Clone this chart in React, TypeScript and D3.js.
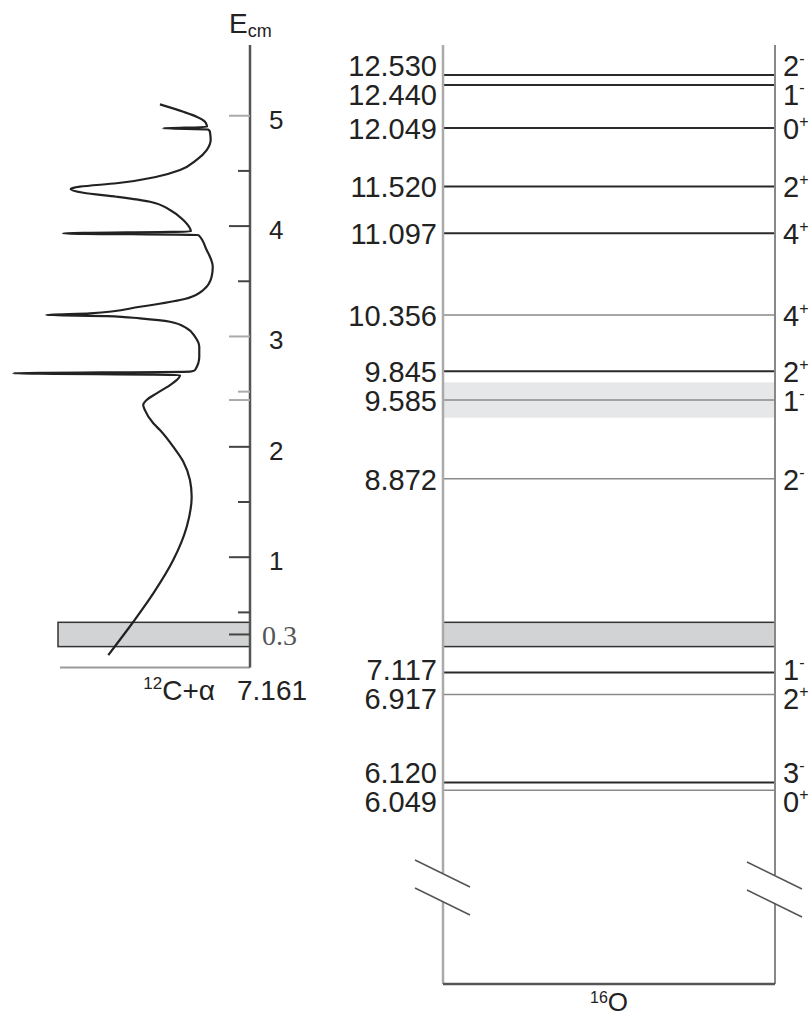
import React from "react";
import * as d3 from "d3";

// 12C + alpha threshold in 16O (MeV)
const THRESHOLD = 7.161;

// 16O levels (excitation energy, MeV)
const levelEnergies = [12.53, 12.44, 12.049, 11.52, 11.097, 10.356, 9.845, 9.585, 8.872, 7.117, 6.917, 6.12, 6.049];
const levelSpins = ["2", "1", "0", "2", "4", "4", "2", "1", "2", "1", "2", "3", "0"];
const levelParities = ["-", "-", "+", "+", "+", "+", "+", "-", "-", "-", "+", "-", "+"];
const levelKinds = ["strong", "strong", "strong", "strong", "strong", "weak", "strong", "weak", "weak", "strong", "weak", "strong", "weak"];
const levelWidths = [0, 0, 0, 0, 0, 0, 0, 0.32, 0, 0, 0, 0, 0];

// Gamow window (E_cm, MeV)
const gamowPeak = 0.3;
const gamowWindow = [0.19, 0.41];

// E_cm axis ticks
const ecmMajorTicks = [1, 2, 3, 4, 5];
const ecmMinorTicks = [0.5, 1.5, 2.5, 3.5, 4.5];

// yield curve: E_cm (MeV) and relative yield
const curveEcm = [
  0.113, 0.415, 0.672, 0.974, 1.276, 1.548, 1.699, 1.865, 2.001, 2.152, 2.213, 2.333, 2.379, 2.424,
  2.485, 2.56, 2.62, 2.65, 2.666, 2.682, 2.696, 2.816, 2.907, 2.997, 3.074, 3.133, 3.164, 3.185,
  3.194, 3.209, 3.269, 3.33, 3.421, 3.541, 3.632, 3.753, 3.783, 3.919, 3.934, 3.951, 4.055, 4.146,
  4.221, 4.266, 4.302, 4.336, 4.357, 4.388, 4.447, 4.508, 4.599, 4.689, 4.78, 4.855, 4.875, 4.886,
  4.898, 4.916, 4.946, 4.991, 5.036, 5.103,
];
const curveYield = [
  7.46, 6.14, 5.09, 4.04, 3.33, 3.07, 3.16, 3.51, 4.04, 4.74, 5.09, 5.53, 5.62, 5.44,
  4.91, 4.21, 3.77, 3.68, 12.47, 3.16, 2.89, 2.67, 2.67, 2.89, 3.33, 4.21, 5.79, 7.54,
  10.74, 8.42, 5.79, 3.68, 2.46, 2.02, 1.96, 2.19, 2.28, 2.72, 9.84, 3.11, 3.51, 4.21,
  5.26, 7.02, 8.77, 9.44, 8.95, 7.02, 4.91, 3.68, 2.81, 2.28, 2.07, 2.11, 2.21, 4.58,
  2.26, 2.28, 2.37, 2.81, 3.51, 4.74,
];

const SANS = "'Liberation Sans', Arial, sans-serif";
const SERIF = "'Liberation Serif', 'Times New Roman', serif";

export default function App() {
  const width = 812;
  const height = 1018;

  // one energy scale for both panels
  const y = d3.scaleLinear().domain([6.049, 12.53]).range([790.3, 75]);
  const ecmY = (e: number) => y(e + THRESHOLD);
  const xYield = d3.scaleLinear().domain([0, 10]).range([250, 60]);

  const axisX = 250;
  const top = 45;
  const panelL = 443;
  const panelR = 775;
  const panelBottom = 984;
  const baseY = ecmY(0);

  const pts = curveEcm
    .map((e, i) => [xYield(curveYield[i]), ecmY(e)] as [number, number])
    .reverse();
  const curvePath = d3.line().curve(d3.curveMonotoneY)(pts) || "";

  // spread labels of levels that sit too close
  const minGap = 29;
  const lineYs = levelEnergies.map((e) => y(e));
  const labelYs = lineYs.slice();
  for (let i = 0; i < labelYs.length - 1; i++) {
    if (lineYs[i + 1] - lineYs[i] < minGap) {
      const mid = (lineYs[i] + lineYs[i + 1]) / 2;
      labelYs[i] = mid - minGap / 2;
      labelYs[i + 1] = mid + minGap / 2;
    }
  }

  const faintTicks = [5, 3, 2.5];
  const kindColor = d3.scaleOrdinal<string, string>().domain(["strong", "weak"]).range(["#2a2a2a", "#8a8a8a"]);
  const kindWidth = d3.scaleOrdinal<string, number>().domain(["strong", "weak"]).range([2, 1.5]);

  // axis break marks
  const breakMarks = (x: number, y0: number) => (
    <g stroke="#555" strokeWidth={1.5}>
      <line x1={x - 28} y1={y0} x2={x + 27} y2={y0 + 27} />
      <line x1={x - 28} y1={y0 + 28} x2={x + 27} y2={y0 + 55} />
    </g>
  );

  return (
    <svg width={width} height={height} style={{ position: "absolute", left: 0, top: 0, background: "#fff" }}>
      {/* ---------- left panel: E_cm axis and yield curve ---------- */}
      <rect
        x={58}
        y={ecmY(gamowWindow[1])}
        width={axisX - 58}
        height={ecmY(gamowWindow[0]) - ecmY(gamowWindow[1])}
        fill="#d2d3d5"
        stroke="#333"
        strokeWidth={1.5}
      />
      <line x1={60} y1={baseY} x2={axisX} y2={baseY} stroke="#999" strokeWidth={2} />
      <line x1={axisX} y1={top} x2={axisX} y2={baseY} stroke="#555" strokeWidth={2.5} />

      {ecmMajorTicks.map((t) => (
        <g key={"M" + t}>
          <line x1={axisX - 21} x2={axisX} y1={ecmY(t)} y2={ecmY(t)} stroke={faintTicks.includes(t) ? "#aaa" : "#444"} strokeWidth={2} />
          <text x={269} y={ecmY(t) + 13} fontFamily={SANS} fontSize={26} fill="#222">
            {t}
          </text>
        </g>
      ))}
      {ecmMinorTicks.map((t) => (
        <line key={"m" + t} x1={axisX - 12} x2={axisX} y1={ecmY(t)} y2={ecmY(t)} stroke={faintTicks.includes(t) ? "#aaa" : "#444"} strokeWidth={2} />
      ))}
      {levelEnergies.map((e, i) =>
        levelWidths[i] > 0 ? (
          <line key={"lt" + i} x1={axisX - 21} x2={axisX} y1={ecmY(e - THRESHOLD)} y2={ecmY(e - THRESHOLD)} stroke="#aaa" strokeWidth={2} />
        ) : null
      )}
      <line x1={axisX - 21} x2={axisX} y1={ecmY(gamowPeak)} y2={ecmY(gamowPeak)} stroke="#444" strokeWidth={2} />
      <text x={262} y={ecmY(gamowPeak) + 11} fontFamily={SERIF} fontSize={28} fill="#555">
        {gamowPeak}
      </text>

      <path d={curvePath} fill="none" stroke="#222" strokeWidth={2.2} strokeLinejoin="round" />

      <text x={229} y={33} fontFamily={SANS} fontSize={28} fill="#222">
        E<tspan fontSize={18} dy={4}>cm</tspan>
      </text>

      <text x={215} y={baseY + 32} fontFamily={SANS} fontSize={28} fill="#222" textAnchor="end">
        <tspan fontSize={17} dy={-11}>12</tspan>
        <tspan dy={11}>C+α</tspan>
      </text>
      <text x={237} y={baseY + 32} fontFamily={SANS} fontSize={28} fill="#222">
        {THRESHOLD.toFixed(3)}
      </text>

      {/* ---------- right panel: 16O levels ---------- */}
      {levelEnergies.map((e, i) =>
        levelWidths[i] > 0 ? (
          <rect
            key={"w" + i}
            x={panelL}
            y={y(e + levelWidths[i] / 2)}
            width={panelR - panelL}
            height={y(e - levelWidths[i] / 2) - y(e + levelWidths[i] / 2)}
            fill="#e6e7e8"
          />
        ) : null
      )}
      <rect
        x={panelL}
        y={ecmY(gamowWindow[1])}
        width={panelR - panelL}
        height={ecmY(gamowWindow[0]) - ecmY(gamowWindow[1])}
        fill="#d2d3d5"
        stroke="#333"
        strokeWidth={1.5}
      />
      {levelEnergies.map((e, i) => (
        <line
          key={"l" + i}
          x1={panelL}
          x2={panelR}
          y1={y(e)}
          y2={y(e)}
          stroke={kindColor(levelKinds[i])}
          strokeWidth={kindWidth(levelKinds[i])}
        />
      ))}

      <g stroke="#aaa" strokeWidth={2.5}>
        <line x1={panelL} y1={top} x2={panelL} y2={873} />
        <line x1={panelL} y1={902} x2={panelL} y2={panelBottom} />
      </g>
      <g stroke="#888" strokeWidth={2}>
        <line x1={panelR} y1={top} x2={panelR} y2={875} />
        <line x1={panelR} y1={903} x2={panelR} y2={panelBottom} />
      </g>
      <line x1={panelL} y1={panelBottom} x2={panelR} y2={panelBottom} stroke="#555" strokeWidth={2.5} />
      {breakMarks(panelL, 860)}
      {breakMarks(panelR, 862)}

      {levelEnergies.map((e, i) => (
        <g key={"t" + i} fontFamily={SANS} fill="#222">
          <text x={437} y={labelYs[i] + 11} fontSize={29} textAnchor="end">
            {e.toFixed(3)}
          </text>
          <text x={783} y={labelYs[i] + 11} fontSize={29}>
            {levelSpins[i]}
            <tspan fontSize={16} dy={-12}>{levelParities[i]}</tspan>
          </text>
        </g>
      ))}

      <text x={(panelL + panelR) / 2} y={1011} fontFamily={SANS} fontSize={26} fill="#222" textAnchor="middle">
        <tspan fontSize={16} dy={-8}>16</tspan>
        <tspan dy={8}>O</tspan>
      </text>
    </svg>
  );
}
